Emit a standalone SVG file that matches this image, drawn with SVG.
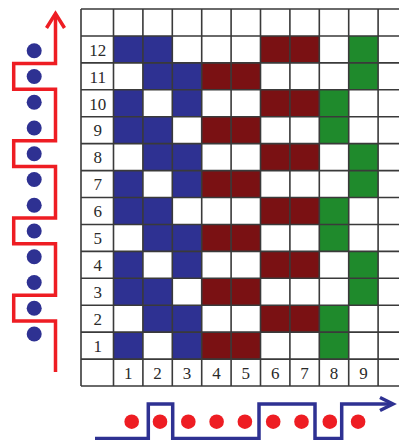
<svg xmlns="http://www.w3.org/2000/svg" width="399" height="440" viewBox="0 0 399 440">
<style>
.b{fill:#2e3192}
.r{fill:#7a1113}
.g{fill:#1f8a2c}
.grid{fill:none;stroke:#3a3a3a;stroke-width:1.6}
.lbl{font-family:"Liberation Serif","Times New Roman",serif;font-size:17px;fill:#2a2a2a;text-anchor:middle}
.rt{fill:none;stroke:#ee1d23;stroke-width:3.5;stroke-linejoin:miter}
.bt{fill:none;stroke:#2e3192;stroke-width:3.5;stroke-linejoin:miter}
.rd{fill:#ee1d23}
.bd{fill:#2e3192}
</style>
<rect width="399" height="440" fill="#fff"/>
<g id="cells">
<g id="blue">
<rect class="b" x="113.5" y="35.93" width="58.8" height="26.93"/>
<rect class="b" x="142.9" y="62.86" width="58.8" height="26.93"/>
<rect class="b" x="113.5" y="89.79" width="29.4" height="26.93"/>
<rect class="b" x="172.3" y="89.79" width="29.4" height="26.93"/>
<rect class="b" x="113.5" y="116.72" width="58.8" height="26.93"/>
<rect class="b" x="142.9" y="143.65" width="58.8" height="26.93"/>
<rect class="b" x="113.5" y="170.58" width="29.4" height="26.93"/>
<rect class="b" x="172.3" y="170.58" width="29.4" height="26.93"/>
<rect class="b" x="113.5" y="197.51" width="58.8" height="26.93"/>
<rect class="b" x="142.9" y="224.44" width="58.8" height="26.93"/>
<rect class="b" x="113.5" y="251.37" width="29.4" height="26.93"/>
<rect class="b" x="172.3" y="251.37" width="29.4" height="26.93"/>
<rect class="b" x="113.5" y="278.3" width="58.8" height="26.93"/>
<rect class="b" x="142.9" y="305.23" width="58.8" height="26.93"/>
<rect class="b" x="113.5" y="332.16" width="29.4" height="26.93"/>
<rect class="b" x="172.3" y="332.16" width="29.4" height="26.93"/>
</g>
<g id="red">
<rect class="r" x="260.5" y="35.93" width="58.8" height="26.93"/>
<rect class="r" x="201.7" y="62.86" width="58.8" height="26.93"/>
<rect class="r" x="260.5" y="89.79" width="58.8" height="26.93"/>
<rect class="r" x="201.7" y="116.72" width="58.8" height="26.93"/>
<rect class="r" x="260.5" y="143.65" width="58.8" height="26.93"/>
<rect class="r" x="201.7" y="170.58" width="58.8" height="26.93"/>
<rect class="r" x="260.5" y="197.51" width="58.8" height="26.93"/>
<rect class="r" x="201.7" y="224.44" width="58.8" height="26.93"/>
<rect class="r" x="260.5" y="251.37" width="58.8" height="26.93"/>
<rect class="r" x="201.7" y="278.3" width="58.8" height="26.93"/>
<rect class="r" x="260.5" y="305.23" width="58.8" height="26.93"/>
<rect class="r" x="201.7" y="332.16" width="58.8" height="26.93"/>
</g>
<g id="green">
<rect class="g" x="348.7" y="35.93" width="29.4" height="53.86"/>
<rect class="g" x="319.3" y="89.79" width="29.4" height="53.86"/>
<rect class="g" x="348.7" y="143.65" width="29.4" height="53.86"/>
<rect class="g" x="319.3" y="197.51" width="29.4" height="53.86"/>
<rect class="g" x="348.7" y="251.37" width="29.4" height="53.86"/>
<rect class="g" x="319.3" y="305.23" width="29.4" height="53.86"/>
</g>
</g>
<path id="grid" class="grid" d="M81,9H399M81,35.93H399M81,62.86H399M81,89.79H399M81,116.72H399M81,143.65H399M81,170.58H399M81,197.51H399M81,224.44H399M81,251.37H399M81,278.3H399M81,305.23H399M81,332.16H399M81,359.09H399M81,386.02H399M81,9V386.02M113.5,9V386.02M142.9,9V386.02M172.3,9V386.02M201.7,9V386.02M231.1,9V386.02M260.5,9V386.02M289.9,9V386.02M319.3,9V386.02M348.7,9V386.02M378.1,9V386.02"/>
<g id="row-labels" class="lbl">
<text x="97.8" y="55.6">12</text>
<text x="97.8" y="82.5">11</text>
<text x="97.8" y="109.5">10</text>
<text x="97.8" y="136.4">9</text>
<text x="97.8" y="163.3">8</text>
<text x="97.8" y="190.3">7</text>
<text x="97.8" y="217.2">6</text>
<text x="97.8" y="244.1">5</text>
<text x="97.8" y="271.1">4</text>
<text x="97.8" y="298">3</text>
<text x="97.8" y="324.9">2</text>
<text x="97.8" y="351.9">1</text>
</g>
<g id="col-labels" class="lbl">
<text x="128.2" y="379">1</text>
<text x="157.6" y="379">2</text>
<text x="187" y="379">3</text>
<text x="216.4" y="379">4</text>
<text x="245.8" y="379">5</text>
<text x="275.2" y="379">6</text>
<text x="304.6" y="379">7</text>
<text x="334" y="379">8</text>
<text x="363.4" y="379">9</text>
</g>
<g id="left-thread">
<g class="bd">
<circle cx="34.2" cy="50.7" r="7.5"/>
<circle cx="34.2" cy="76.45" r="7.5"/>
<circle cx="34.2" cy="102.2" r="7.5"/>
<circle cx="34.2" cy="127.95" r="7.5"/>
<circle cx="34.2" cy="153.7" r="7.5"/>
<circle cx="34.2" cy="179.45" r="7.5"/>
<circle cx="34.2" cy="205.2" r="7.5"/>
<circle cx="34.2" cy="230.95" r="7.5"/>
<circle cx="34.2" cy="256.7" r="7.5"/>
<circle cx="34.2" cy="282.45" r="7.5"/>
<circle cx="34.2" cy="308.2" r="7.5"/>
<circle cx="34.2" cy="333.95" r="7.5"/>
</g>
<path class="rt" d="M55.5,372V321.1H13.7V295.3H55.5V243.8H13.7V218.1H55.5V166.6H13.7V140.8H55.5V89.3H13.7V63.6H55.5V14"/>
<path class="rt" d="M46.5,28L55.5,13.5L64.5,28"/>
</g>
<g id="bottom-thread">
<g class="rd">
<circle cx="131.7" cy="421.7" r="7.3"/>
<circle cx="160" cy="421.7" r="7.3"/>
<circle cx="188.3" cy="421.7" r="7.3"/>
<circle cx="216.6" cy="421.7" r="7.3"/>
<circle cx="244.9" cy="421.7" r="7.3"/>
<circle cx="273.2" cy="421.7" r="7.3"/>
<circle cx="301.5" cy="421.7" r="7.3"/>
<circle cx="329.8" cy="421.7" r="7.3"/>
<circle cx="358.1" cy="421.7" r="7.3"/>
</g>
<path class="bt" d="M95,438.5H148.3V404H172.7V438.5H259V404H315V438.5H341.7V404H392"/>
<path class="bt" d="M380,397.5L393,404L380,410.5"/>
</g>
</svg>
